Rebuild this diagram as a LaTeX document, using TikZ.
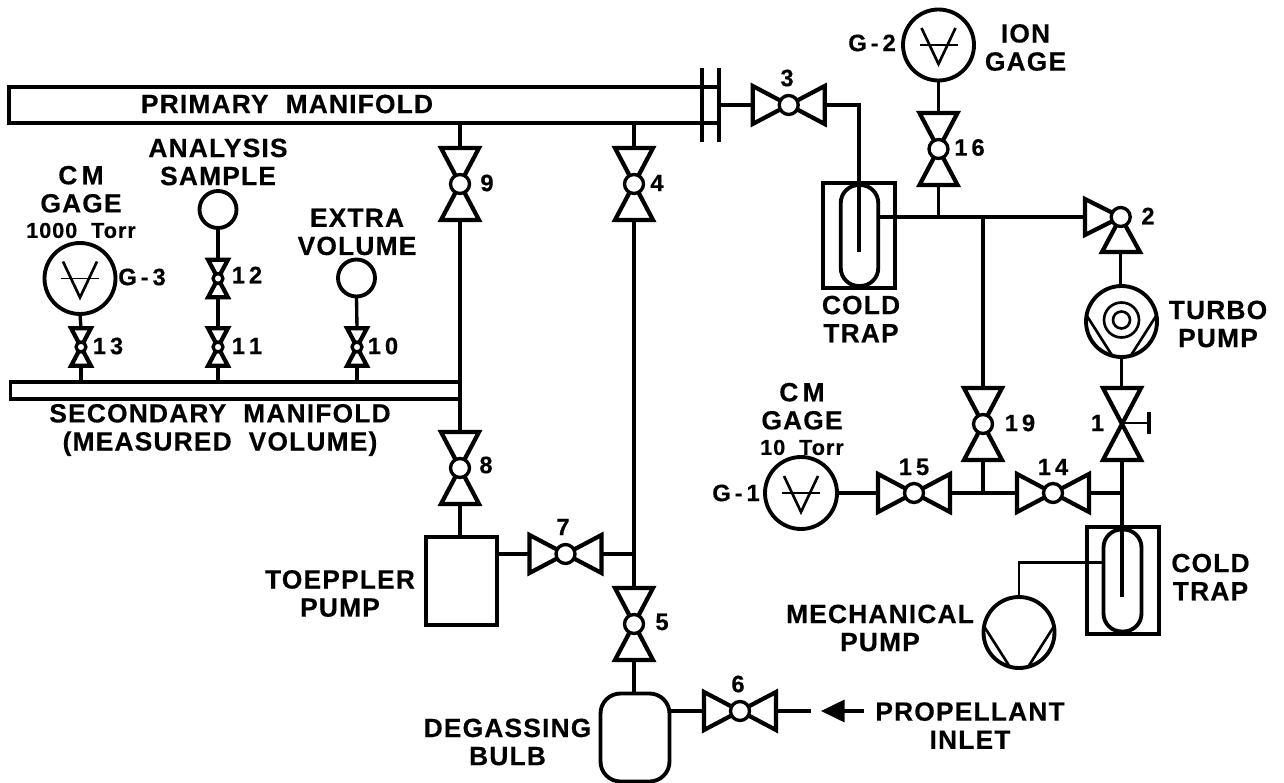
\documentclass[tikz,border=0pt]{standalone}
\usepackage{fontspec}
\setmainfont[LetterSpace=4.5,BoldFeatures={FakeBold=0.4}]{Liberation Sans}
\usetikzlibrary{arrows.meta}
\tikzset{
  pipe/.style={line width=1.9pt},
  body/.style={line width=2.4pt, line join=miter},
  shell/.style={draw, line width=2.2pt, inner sep=0pt, outer sep=0pt},
  vessel/.style={shell, circle, fill=white},
  ball/.style={circle, draw, fill=white, line width=1.9pt, inner sep=0pt, outer sep=0pt},
  lab/.style={font=\bfseries\fontsize{15}{16}\selectfont, align=center, inner sep=0pt},
  numlab/.style={font=\bfseries\fontsize{13.5}{16}\selectfont, inner sep=0pt},
  tick/.style={line width=1.1pt},
  chord/.style={line width=1.5pt}
}
% name, x, y, rotation, scale
\newcommand{\valvebody}[5]{
  \begin{scope}[shift={(#2,#3)}, rotate=#4, scale=#5]
    \coordinate (#1a) at (-36,0); \coordinate (#1b) at (36,0);
    \draw[body] (-36,-19) -- (36,19) -- (36,-19) -- (-36,19) -- cycle;
  \end{scope}}
\newcommand{\valve}[5]{
  \valvebody{#1}{#2}{#3}{#4}{#5}
  \node (#1) at (#2,#3) [ball, minimum size=#5*0.38cm] {};}
\newcommand{\gagemark}[1]{
  \begin{scope}[shift={(#1.center)}]
    \draw[chord] (-17,-17) -- (0,19) -- (17,-17);
    \draw[tick] (-19,0) -- (19,0);
  \end{scope}}
\newcommand{\pumpmark}[1]{
  \draw[chord] (#1.170) -- (#1.255); \draw[chord] (#1.10) -- (#1.285);}
\begin{document}
\begin{tikzpicture}[x=0.02cm, y=-0.02cm]
  \useasboundingbox (0,0) rectangle (1284,783);
  % manifolds
  \node (primary) at (364,105) [shell, minimum width=14.2cm, minimum height=0.72cm] {};
  \node (second) at (235,390.5) [shell, minimum width=8.98cm, minimum height=0.35cm] {};
  \coordinate (flangeat) at (702,68); \coordinate (flangeab) at (702,142);
  \coordinate (flangebt) at (719,68); \coordinate (flangebb) at (719,142);
  \coordinate (flangeout) at (719,105);
  \draw[pipe] (flangeat) -- (flangeab); \draw[pipe] (flangebt) -- (flangebb);
  % valves, big ones
  \valve{vthree}{788.7}{105}{0}{1}
  \valve{vsixteen}{938.5}{149}{-90}{1}
  \valve{vnine}{460}{184}{-90}{1}
  \valve{vfour}{634}{184}{-90}{1}
  \valve{veight}{460}{468}{-90}{1}
  \valve{vfive}{634}{624}{-90}{1}
  \valve{vseven}{565.5}{554}{0}{1}
  \valve{vsix}{740}{711}{0}{1}
  \valve{vfifteen}{914}{493}{0}{1}
  \valve{vfourteen}{1053}{493}{0}{1}
  \valve{vnineteen}{983}{424}{-90}{1}
  \valvebody{vone}{1122}{424}{-90}{1}
  % small ones
  \valve{vthirteen}{81}{347}{-90}{0.52}
  \valve{vtwelve}{218}{278.5}{-90}{0.52}
  \valve{veleven}{218}{347}{-90}{0.52}
  \valve{vten}{357}{347}{-90}{0.52}
  % valve 2 turns the corner
  \coordinate (vtwoc) at (1120.7,217);
  \coordinate (vtwoa) at (1085,217); \coordinate (vtwob) at (1120.7,252);
  \draw[body] (1085,199) -- (vtwoc) -- (1085,235) -- cycle;
  \draw[body] (1102,252) -- (vtwoc) -- (1140,252) -- cycle;
  \node (vtwo) at (vtwoc) [ball, minimum size=0.38cm] {};
  % gages and pumps
  \node (gone) at (801,493) [vessel, minimum size=1.44cm] {};
  \node (gtwo) at (938.5,45) [vessel, minimum size=1.42cm] {};
  \node (gthree) at (80,278.5) [vessel, minimum size=1.42cm] {};
  \gagemark{gone} \gagemark{gtwo} \gagemark{gthree}
  \node (sample) at (218,209.5) [vessel, minimum size=0.74cm] {};
  \node (extra) at (356.5,278) [vessel, minimum size=0.74cm] {};
  \node (turbo) at (1121.5,321.5) [vessel, minimum size=1.42cm] {};
  \node (turboa) at (1121.5,320) [circle, draw, chord, minimum size=0.7cm, inner sep=0pt] {};
  \node (turbob) at (1121.5,320) [circle, draw, chord, minimum size=0.34cm, inner sep=0pt] {};
  \pumpmark{turbo}
  \node (mech) at (1019,632.5) [vessel, minimum size=1.42cm] {};
  \pumpmark{mech}
  \node (toeppler) at (461.5,581) [shell, minimum width=1.42cm, minimum height=1.76cm] {};
  \node (bulb) at (635,737.5) [shell, rounded corners=0.4cm, minimum width=1.38cm, minimum height=1.76cm] {};
  % traps
  \node (trapone) at (859,235.5) [shell, minimum width=1.44cm, minimum height=2.1cm] {};
  \node (tubeone) at (859.5,235.5) [shell, rounded corners=0.36cm, minimum width=0.75cm, minimum height=2.02cm] {};
  \node (traptwo) at (1123,580.5) [shell, minimum width=1.44cm, minimum height=2.14cm] {};
  \node (tubetwo) at (1122.5,580.5) [shell, rounded corners=0.36cm, minimum width=0.76cm, minimum height=2.04cm] {};
  \coordinate (trapinone) at (859,252); \coordinate (trapintwo) at (1122,597);
  \coordinate (mechpipe) at (1019,562.5);
  \coordinate (vonestem) at (1122,423); \coordinate (vonecap) at (1149,423);
  \coordinate (vonecapa) at (1149,412.5); \coordinate (vonecapb) at (1149,434);
  \coordinate (inletstub) at (811,711); \coordinate (inlettail) at (864,711); \coordinate (inlettip) at (821,711);
  % connectors
  \draw[pipe] (flangeout) -- (vthreea); \draw[pipe] (vthreeb) -| (trapinone);
  \draw[pipe] (tubeone.east |- vtwoa) -- (vtwoa);
  \draw[pipe] (gtwo.south) -- (vsixteena); \draw[pipe] (vsixteenb) -- (vsixteenb |- vtwoa);
  \draw[pipe] (vnineteena) -- (vnineteena |- vtwoa);
  \draw[pipe] (vtwob) -- (turbo.north -| vtwob); \draw[pipe] (turbo.south) -- (vonea -| turbo.south);
  \draw[pipe] (vnineteenb) -- (vnineteenb |- vfourteena);
  \draw[pipe] (gone.east) -- (vfifteena); \draw[pipe] (vfifteenb) -- (vfourteena);
  \draw[pipe] (vfourteenb) -- (vfourteenb -| voneb);
  \draw[pipe] (voneb) -- (trapintwo);
  \draw[chord] (vonestem) -- (vonecap); \draw[pipe] (vonecapa) -- (vonecapb);
  \draw[chord] (tubetwo.west |- mechpipe) -- (mechpipe) -- (mech.north);
  \draw[pipe] (primary.south -| vninea) -- (vninea); \draw[pipe] (primary.south -| vfoura) -- (vfoura);
  \draw[pipe] (vnineb) -- (veighta);
  \draw[pipe] (vfourb) -- (vfivea);
  \draw[pipe] (veightb) -- (toeppler.north -| veightb);
  \draw[pipe] (toeppler.east |- vsevena) -- (vsevena); \draw[pipe] (vsevenb) -- (vsevenb -| vfourb);
  \draw[pipe] (vfiveb) -- (bulb.north -| vfiveb);
  \draw[pipe] (bulb.east |- vsixa) -- (vsixa);
  \draw[pipe] (vsixb) -- (inletstub);
  \draw[pipe, -{Triangle[length=0.47cm, width=0.44cm]}] (inlettail) -- (inlettip);
  \draw[pipe] (gthree.south) -- (vthirteena); \draw[pipe] (vthirteenb) -- (second.north -| vthirteenb);
  \draw[pipe] (sample.south) -- (vtwelvea); \draw[pipe] (vtwelveb) -- (velevena);
  \draw[pipe] (velevenb) -- (second.north -| velevenb);
  \draw[pipe] (extra.south) -- (vtena); \draw[pipe] (vtenb) -- (second.north -| vtenb);
  % labels
  \node (lprimary) at (287,104) [lab] {PRIMARY\ \ MANIFOLD};
  \node (lsecond) at (220,430) [lab] {SECONDARY\ \ MANIFOLD\\(MEASURED\ \ VOLUME)};
  \node (lcmthree) at (81,202) [lab] {C\,M\\GAGE\\[-1.5pt]{\fontsize{12.3}{13}\selectfont 1000\ \ Torr}};
  \node (lcmone) at (802,419) [lab] {C\,M\\GAGE\\[-1.5pt]{\fontsize{12.3}{13}\selectfont 10\ \ Torr}};
  \node (lsample) at (218,162) [lab] {ANALYSIS\\SAMPLE};
  \node (lextra) at (357,232) [lab] {EXTRA\\VOLUME};
  \node (lgthree) at (142,277) [numlab] {G\,-\,3};
  \node (lgtwo) at (872,43) [numlab] {G\,-\,2};
  \node (lgone) at (736,493) [numlab] {G\,-\,1};
  \node (lion) at (1025.5,47.5) [lab] {ION\\GAGE};
  \node (lcoldone) at (861,319) [lab] {COLD\\TRAP};
  \node (lcoldtwo) at (1210.5,577) [lab] {COLD\\TRAP};
  \node (lturbo) at (1218,324) [lab] {TURBO\\PUMP};
  \node (lmech) at (880,628) [lab] {MECHANICAL\\PUMP};
  \node (ltoeppler) at (340,593.5) [lab] {TOEPPLER\\PUMP};
  \node (ldegas) at (507.5,742) [lab] {DEGASSING\\BULB};
  \node (linlet) at (970,725.5) [lab] {PROPELLANT\\INLET};
  \node (none) at (1097.5,423) [numlab] {1};
  \node (ntwo) at (1148,216) [numlab] {2};
  \node (nthree) at (787,78) [numlab] {3};
  \node (nfour) at (657,183) [numlab] {4};
  \node (nfive) at (662,622) [numlab] {5};
  \node (nsix) at (738,684) [numlab] {6};
  \node (nseven) at (563,527) [numlab] {7};
  \node (neight) at (486,465) [numlab] {8};
  \node (nnine) at (487,183) [numlab] {9};
  \node (nten) at (383,346) [numlab] {1\,0};
  \node (neleven) at (247,346) [numlab] {1\,1};
  \node (ntwelve) at (247,275) [numlab] {1\,2};
  \node (nthirteen) at (108,346) [numlab] {1\,3};
  \node (nfourteen) at (1053,467) [numlab] {1\,4};
  \node (nfifteen) at (914,467) [numlab] {1\,5};
  \node (nsixteen) at (969.5,147.5) [numlab] {1\,6};
  \node (nnineteen) at (1020,423) [numlab] {1\,9};
\end{tikzpicture}
\end{document}
